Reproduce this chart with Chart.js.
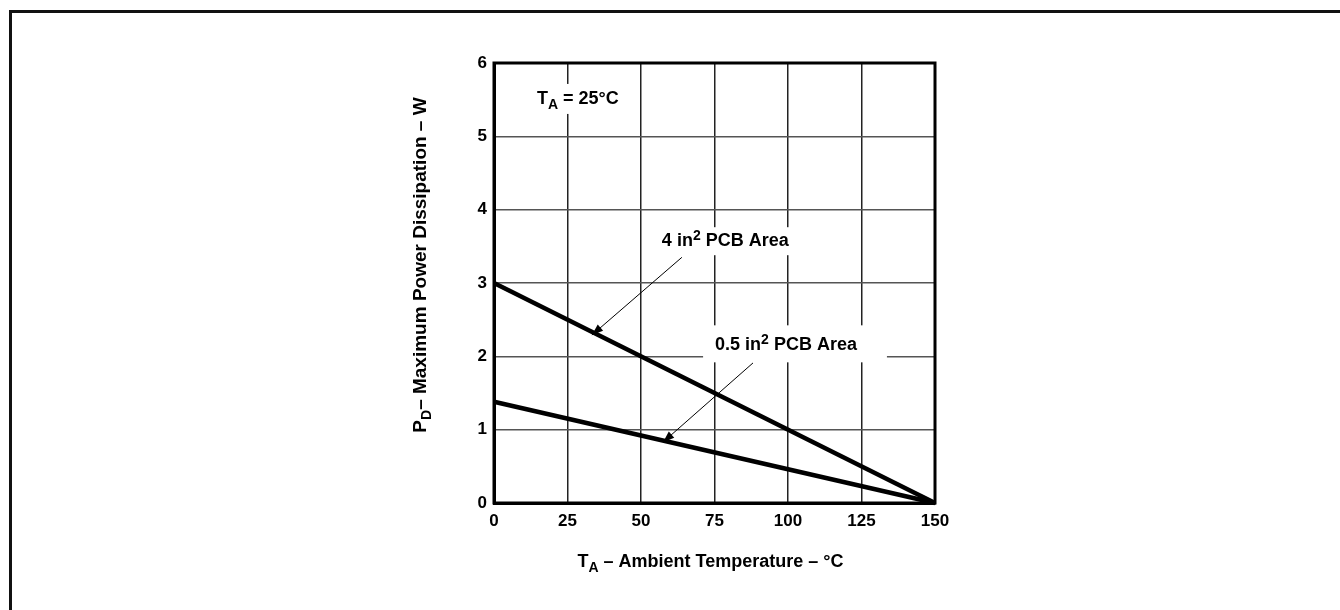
<!DOCTYPE html>
<html>
<head>
<meta charset="utf-8">
<script src="https://cdn.jsdelivr.net/npm/chart.js@4.4.1/dist/chart.umd.min.js"></script>
<style>
  body { margin: 0; background: #fff; }
  #frame { position: absolute; left: 9px; top: 10px; width: 1340px; height: 610px;
           border-top: 3px solid #111; border-left: 3px solid #111; }
  #c { position: absolute; left: 0; top: 0; }
</style>
</head>
<body>
<div id="frame"></div>
<canvas id="c" width="1340" height="610"></canvas>
<script>
// datos
const temps = [0, 150];
const pcb4 = [3.0, 0];
const pcb05 = [1.38, 0];
const xMin = 0, xMax = 150, xStep = 25;
const yMin = 0, yMax = 6, yStep = 1;

const FONT = '"Liberation Sans", Arial, Helvetica, sans-serif';

// texto con subindices / superindices: [texto, modo] 0 normal, 1 sub, 2 sup
function richText(ctx, parts, x, y, size, align) {
  const fonts = parts.map(p => 'bold ' + (p[1] ? Math.round(size * 0.75) : size) + 'px ' + FONT);
  let w = 0;
  parts.forEach((p, i) => { ctx.font = fonts[i]; w += ctx.measureText(p[0]).width; });
  let cx = align === 'center' ? x - w / 2 : x;
  ctx.textAlign = 'left';
  ctx.textBaseline = 'middle';
  parts.forEach((p, i) => {
    ctx.font = fonts[i];
    const dy = p[1] === 1 ? size * 0.32 : p[1] === 2 ? -size * 0.3 : 0;
    ctx.fillText(p[0], cx, y + dy);
    cx += ctx.measureText(p[0]).width;
  });
  return w;
}

function measureRich(ctx, parts, size) {
  let w = 0;
  parts.forEach(p => {
    ctx.font = 'bold ' + (p[1] ? Math.round(size * 0.75) : size) + 'px ' + FONT;
    w += ctx.measureText(p[0]).width;
  });
  return w;
}

function arrow(ctx, x1, y1, x2, y2) {
  ctx.save();
  ctx.strokeStyle = '#000';
  ctx.fillStyle = '#000';
  ctx.lineWidth = 1;
  ctx.beginPath();
  ctx.moveTo(x1, y1);
  ctx.lineTo(x2, y2);
  ctx.stroke();
  const a = Math.atan2(y2 - y1, x2 - x1);
  const len = 12, half = 0.35;
  ctx.beginPath();
  ctx.moveTo(x2, y2);
  ctx.lineTo(x2 - len * Math.cos(a - half), y2 - len * Math.sin(a - half));
  ctx.lineTo(x2 - len * Math.cos(a + half), y2 - len * Math.sin(a + half));
  ctx.closePath();
  ctx.fill();
  ctx.restore();
}

// etiquetas dentro del grafico (posicion en unidades de datos)
const labels = [
  { parts: [['T', 0], ['A', 1], [' = 25°C', 0]], x: 14.6, y: 5.51, pad: [6, 6, 15, 15] },
  { parts: [['4 in', 0], ['2', 2], [' PCB Area', 0]], x: 57.1, y: 3.57, pad: [8, 8, 14, 14] },
  { parts: [['0.5 in', 0], ['2', 2], [' PCB Area', 0]], x: 75.2, y: 2.15, pad: [12, 30, 20, 17] }
];
const arrows = [
  [63.9, 3.35, 33.3, 2.29],
  [88.1, 1.91, 57.5, 0.83]
];

const annotations = {
  id: 'annotations',
  beforeDatasetsDraw(chart) {
    const { ctx, chartArea: a, scales: { x, y } } = chart;
    ctx.save();
    // fondos blancos de las etiquetas
    ctx.fillStyle = '#fff';
    labels.forEach(l => {
      const w = measureRich(ctx, l.parts, 18);
      const px = x.getPixelForValue(l.x), py = y.getPixelForValue(l.y);
      ctx.fillRect(px - l.pad[0], py - l.pad[2], w + l.pad[0] + l.pad[1], l.pad[2] + l.pad[3]);
    });
    // marco
    ctx.strokeStyle = '#000';
    ctx.lineWidth = 3;
    ctx.strokeRect(a.left, a.top, a.right - a.left, a.bottom - a.top);
    ctx.restore();
  },
  afterDatasetsDraw(chart) {
    const { ctx, chartArea: a, scales: { x, y } } = chart;
    ctx.save();
    ctx.fillStyle = '#000';
    labels.forEach(l => {
      richText(ctx, l.parts, x.getPixelForValue(l.x), y.getPixelForValue(l.y), 18, 'left');
    });
    arrows.forEach(r => {
      arrow(ctx, x.getPixelForValue(r[0]), y.getPixelForValue(r[1]),
        x.getPixelForValue(r[2]), y.getPixelForValue(r[3]));
    });
    // titulos de ejes
    richText(ctx, [['T', 0], ['A', 1], [' – Ambient Temperature – °C', 0]],
      (a.left + a.right) / 2 - 4, a.bottom + 59, 18, 'center');
    ctx.translate(a.left - 73, (a.top + a.bottom) / 2 - 18);
    ctx.rotate(-Math.PI / 2);
    richText(ctx, [['P', 0], ['D', 1], ['– Maximum Power Dissipation – W', 0]], 0, 0, 19, 'center');
    ctx.restore();
  }
};

const ctx = document.getElementById('c').getContext('2d');

const chart = new Chart(ctx, {
  type: 'scatter',
  data: {
    datasets: [
      {
        label: '4 in2 PCB Area',
        data: temps.map((t, i) => ({ x: t, y: pcb4[i] })),
        showLine: true, borderColor: '#000', borderWidth: 4.5,
        pointRadius: 0, tension: 0, clip: false
      },
      {
        label: '0.5 in2 PCB Area',
        data: temps.map((t, i) => ({ x: t, y: pcb05[i] })),
        showLine: true, borderColor: '#000', borderWidth: 4.5,
        pointRadius: 0, tension: 0, clip: false
      }
    ]
  },
  options: {
    responsive: false,
    animation: false,
    events: [],
    layout: { padding: { left: 434, top: 63, right: 405, bottom: 67 } },
    plugins: { legend: { display: false }, tooltip: { enabled: false } },
    scales: {
      x: {
        type: 'linear', min: xMin, max: xMax,
        afterFit: s => { s.height = 40; },
        ticks: { stepSize: xStep, padding: 8, color: '#000',
                 font: { family: FONT, size: 17, weight: 'bold' } },
        grid: { color: '#222', lineWidth: 1.5, drawTicks: false },
        border: { display: true, color: '#000', width: 3 }
      },
      y: {
        type: 'linear', min: yMin, max: yMax,
        afterFit: s => { s.width = 60; },
        ticks: { stepSize: yStep, padding: 7, color: '#000',
                 font: { family: FONT, size: 17, weight: 'bold' } },
        grid: { color: '#555', lineWidth: 1.5, drawTicks: false },
        border: { display: true, color: '#000', width: 3 }
      }
    }
  },
  plugins: [annotations]
});
</script>
</body>
</html>
